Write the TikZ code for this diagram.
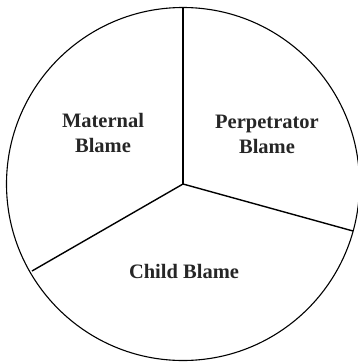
\documentclass[tikz,border=0pt]{standalone}
\usepackage{fontspec}
\setmainfont{Liberation Serif}
\begin{document}
\begin{tikzpicture}[x=1pt,y=-1pt,
  slice/.style={font=\fontsize{20.5}{25}\selectfont\bfseries,align=center,text=black!85}]
 \useasboundingbox (0,0) rectangle (358,364);
 % pie outline
 \coordinate (o) at (183,184);
 \draw[line width=1.1pt] (o) circle (176.5);
 % dividing lines
 \coordinate (top) at (183,7);
 \coordinate (right) at (353,231);
 \coordinate (left) at (32,271);
 \draw[line width=1.4pt] (o)--(top);
 \draw[line width=1.4pt] (o)--(right);
 \draw[line width=1.4pt] (o)--(left);
 % labels
 \node[slice] (mat) at (103,133) {Maternal\\Blame};
 \node[slice] (perp) at (267,134) {Perpetrator\\Blame};
 \node[slice] (child) at (184,271) {Child Blame};
\end{tikzpicture}
\end{document}
